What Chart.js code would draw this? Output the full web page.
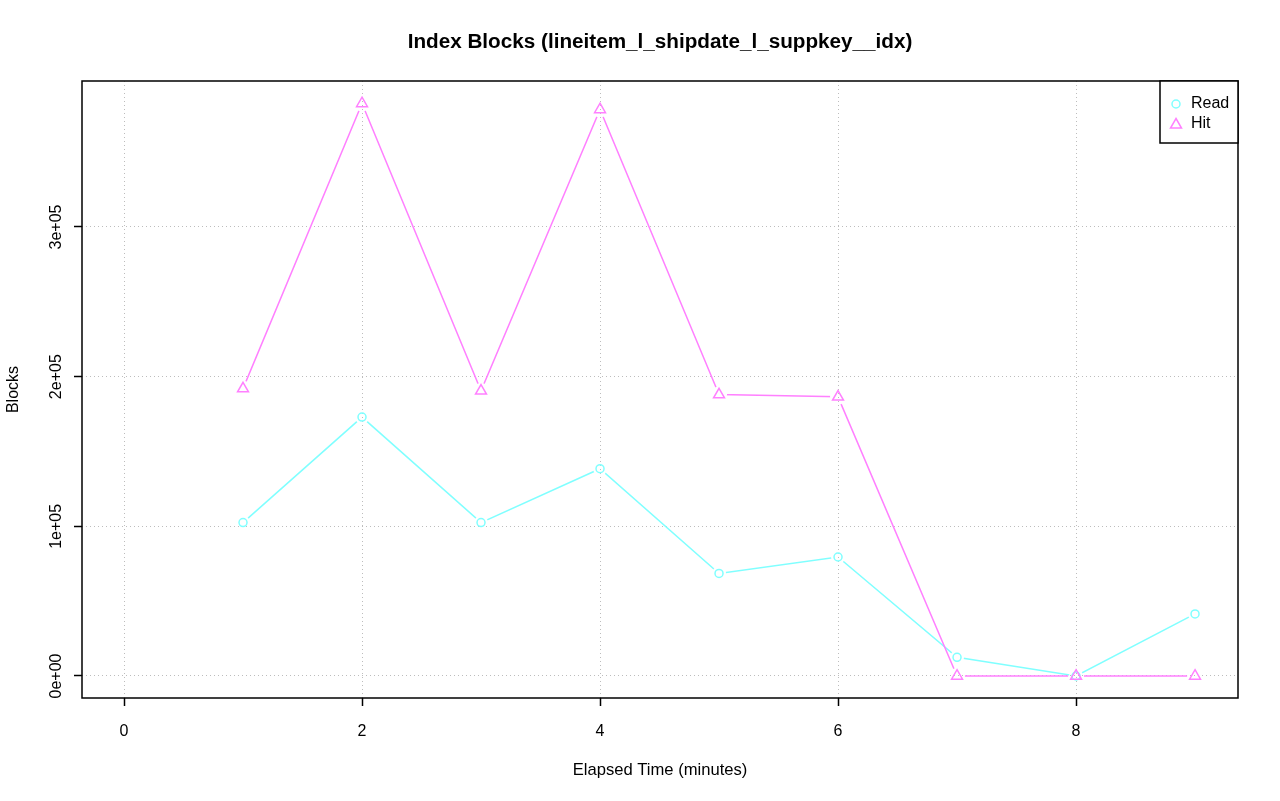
<!DOCTYPE html>
<html>
<head>
<meta charset="utf-8">
<script src="https://cdn.jsdelivr.net/npm/chart.js@4/dist/chart.umd.min.js"></script>
<style>
  html, body { margin: 0; padding: 0; background: #ffffff; }
  canvas { display: block; }
</style>
</head>
<body>
<canvas id="c" width="1280" height="801"></canvas>
<script>
// ---- data ----
const minutes = [1, 2, 3, 4, 5, 6, 7, 8, 9];
const readBlocks = [102500, 173000, 102500, 138500, 68500, 79500, 12500, 0, 41500];
const hitBlocks = [192000, 382500, 190500, 378500, 188000, 186500, 0, 0, 0];
const xTickValues = [0, 2, 4, 6, 8];
const yTickValues = [0, 100000, 200000, 300000];
const yTickLabels = ['0e+00', '1e+05', '2e+05', '3e+05'];
const seriesNames = ['Read', 'Hit'];
const seriesColors = ['#80ffff', '#ff80ff'];
const seriesShapes = ['circle', 'triangle'];
const chartTitle = 'Index Blocks (lineitem_l_shipdate_l_suppkey__idx)';

const FONT = '"Liberation Sans", Arial, Helvetica, sans-serif';

function pts(values) { return minutes.map((m, i) => ({ x: m, y: values[i] })); }

const seriesValues = [readBlocks, hitBlocks];
const datasets = [];
seriesValues.forEach((vals, s) => {
  // line part (gapped around points like R type="b")
  datasets.push({
    label: seriesNames[s] + ' line',
    data: pts(vals),
    borderColor: seriesColors[s],
    borderWidth: 1.5,
    pointRadius: 0,
    pointHoverRadius: 0,
    fill: false,
    tension: 0,
    gapLine: true,
    gapRadius: s === 0 ? 7 : 8,
    order: s === 0 ? 3 : 1
  });
  // point markers
  datasets.push({
    label: seriesNames[s],
    data: pts(vals),
    showLine: false,
    pointStyle: seriesShapes[s],
    pointRadius: s === 0 ? 4 : 6.3,
    pointBorderWidth: 1.5,
    pointBorderColor: seriesColors[s],
    pointBackgroundColor: 'rgba(0,0,0,0)',
    order: s === 0 ? 2 : 0
  });
});

const gapPlugin = {
  id: 'gapPlugin',
  beforeDatasetDraw(chart, args) {
    const ds = chart.data.datasets[args.index];
    if (!ds.gapLine) return;
    const ctx = chart.ctx;
    const a = chart.chartArea;
    const r = ds.gapRadius;
    ctx.save();
    ctx.beginPath();
    ctx.rect(a.left, a.top, a.right - a.left, a.bottom - a.top);
    args.meta.data.forEach(p => {
      ctx.moveTo(p.x + r, p.y);
      ctx.arc(p.x, p.y, r, 0, Math.PI * 2);
    });
    ctx.clip('evenodd');
  },
  afterDatasetDraw(chart, args) {
    const ds = chart.data.datasets[args.index];
    if (!ds.gapLine) return;
    chart.ctx.restore();
  }
};

const framePlugin = {
  id: 'framePlugin',
  afterDraw(chart) {
    const ctx = chart.ctx;
    const a = chart.chartArea;
    ctx.save();
    // title centred over the plot region
    ctx.fillStyle = '#000000';
    ctx.font = 'bold 20.7px ' + FONT;
    ctx.textAlign = 'center';
    ctx.textBaseline = 'middle';
    ctx.fillText(chartTitle, (a.left + a.right) / 2, 42);

    ctx.strokeStyle = '#000000';
    ctx.lineWidth = 1.5;
    ctx.strokeRect(a.left, a.top, a.right - a.left, a.bottom - a.top);

    // legend box (top-right, inside plot)
    const bw = 78, bh = 62;
    const bx = a.right - bw, by = a.top;
    ctx.fillStyle = '#ffffff';
    ctx.fillRect(bx, by, bw, bh);
    ctx.strokeRect(bx, by, bw, bh);
    ctx.font = '16px ' + FONT;
    ctx.textBaseline = 'middle';
    ctx.textAlign = 'left';
    seriesNames.forEach((name, i) => {
      const cy = by + 23 + i * 20;
      const cx = bx + 16;
      ctx.strokeStyle = seriesColors[i];
      ctx.lineWidth = 1.5;
      ctx.beginPath();
      if (seriesShapes[i] === 'circle') {
        ctx.arc(cx, cy, 4, 0, Math.PI * 2);
      } else {
        ctx.moveTo(cx, cy - 5.5);
        ctx.lineTo(cx + 5.5, cy + 4);
        ctx.lineTo(cx - 5.5, cy + 4);
        ctx.closePath();
      }
      ctx.stroke();
      ctx.fillStyle = '#000000';
      ctx.fillText(name, bx + 31, cy);
    });
    ctx.restore();
  }
};

const gridOpts = {
  color: '#bdbdbd',
  lineWidth: 1,
  drawTicks: true,
  tickLength: 8,
  tickColor: '#000000',
  tickWidth: 1.5,
  tickBorderDash: []
};

new Chart(document.getElementById('c'), {
  type: 'line',
  data: { datasets },
  plugins: [gapPlugin, framePlugin],
  options: {
    responsive: false,
    animation: false,
    devicePixelRatio: 1,
    layout: { padding: { left: 0, right: 42, top: 81, bottom: 0 } },
    plugins: {
      legend: { display: false },
      tooltip: { enabled: false },
      title: { display: false }
    },
    scales: {
      x: {
        type: 'linear',
        min: -0.353,
        max: 9.361,
        afterBuildTicks(scale) { scale.ticks = xTickValues.map(v => ({ value: v })); },
        afterFit(scale) { scale.height = 103; },
        ticks: {
          autoSkip: false,
          maxRotation: 0,
          color: '#000000',
          padding: 16,
          font: { family: FONT, size: 16 },
          callback: v => String(v)
        },
        grid: gridOpts,
        border: { display: false, dash: [1, 3] },
        title: {
          display: true,
          text: 'Elapsed Time (minutes)',
          color: '#000000',
          font: { family: FONT, size: 16.6, lineHeight: 1.2 },
          padding: { top: 0, bottom: 21 }
        }
      },
      y: {
        type: 'linear',
        min: -14700,
        max: 397540,
        afterBuildTicks(scale) { scale.ticks = yTickValues.map(v => ({ value: v })); },
        afterFit(scale) { scale.width = 82; },
        ticks: {
          autoSkip: false,
          minRotation: 90,
          maxRotation: 90,
          crossAlign: 'center',
          color: '#000000',
          padding: -5,
          font: { family: FONT, size: 16 },
          callback: v => yTickLabels[yTickValues.indexOf(v)]
        },
        grid: gridOpts,
        border: { display: false, dash: [1, 3] },
        title: {
          display: true,
          text: 'Blocks',
          color: '#000000',
          font: { family: FONT, size: 16, lineHeight: 1.2 },
          padding: { top: 4, bottom: 0 }
        }
      }
    }
  }
});
</script>
</body>
</html>
